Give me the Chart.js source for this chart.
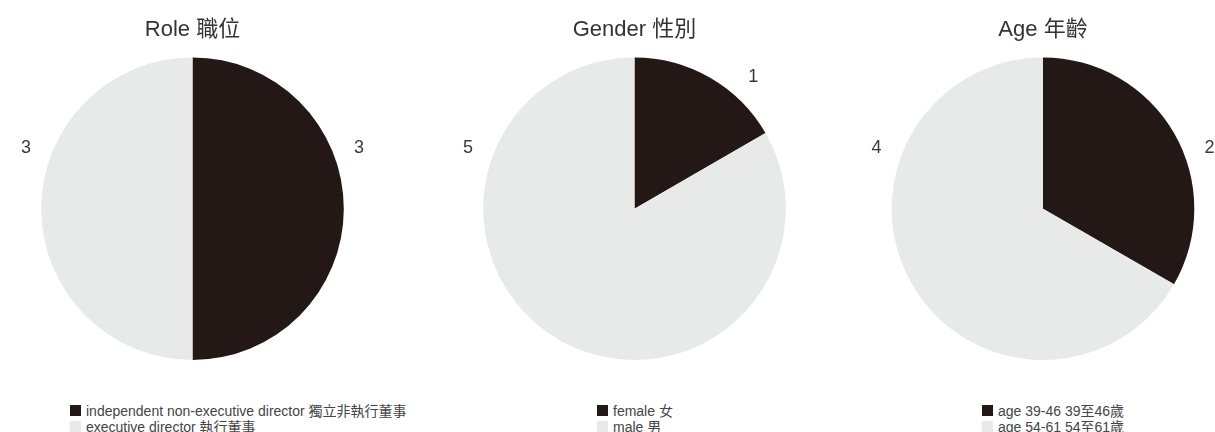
<!DOCTYPE html>
<html>
<head>
<meta charset="utf-8">
<script src="https://cdn.jsdelivr.net/npm/chart.js@4/dist/chart.umd.min.js"></script>
<style>
html, body { margin:0; padding:0; background:#fff; }
body { width:1215px; height:432px; overflow:hidden; position:relative;
  font-family:'Liberation Sans','Noto Sans CJK TC',sans-serif; }
canvas.chart { position:absolute; top:0; }
.legend { position:absolute; top:402px; font-size:14px; color:#444; white-space:nowrap; }
.legend .item { display:flex; align-items:center; height:16px; }
.legend .box { width:11px; height:11px; margin-right:5px; flex:none; }
</style>
</head>
<body>
<canvas id="c0" class="chart" width="381" height="360" style="left:2px"></canvas>
<canvas id="c1" class="chart" width="381" height="360" style="left:444px"></canvas>
<canvas id="c2" class="chart" width="370" height="360" style="left:858px"></canvas>
<div id="l0" class="legend" style="left:70px"></div>
<div id="l1" class="legend" style="left:597px"></div>
<div id="l2" class="legend" style="left:982px"></div>
<script>
// ---- data ----
const chartTitles = ['Role 職位', 'Gender 性別', 'Age 年齡'];
const roleLabels = ['independent non-executive director 獨立非執行董事', 'executive director 執行董事'];
const roleValues = [3, 3];
const genderLabels = ['female 女', 'male 男'];
const genderValues = [1, 5];
const ageLabels = ['age 39-46 39至46歲', 'age 54-61 54至61歲'];
const ageValues = [2, 4];

// ---- styles ----
const FONT = "'Liberation Sans','Noto Sans CJK TC',sans-serif";
const sliceColors = ['#231815', '#e8e9e9'];
Chart.defaults.font.family = FONT;

const outerLabels = {
  id: 'outerLabels',
  afterDatasetsDraw(chart, args, opts) {
    const ctx = chart.ctx;
    const meta = chart.getDatasetMeta(0);
    const values = chart.data.datasets[0].data;
    const deg = Math.PI / 180;
    ctx.save();
    ctx.font = opts.size + 'px ' + FONT;
    ctx.fillStyle = opts.color;
    ctx.textAlign = 'center';
    ctx.textBaseline = 'middle';
    meta.data.forEach((arc, i) => {
      const p = arc.getProps(['x', 'y', 'startAngle', 'endAngle', 'outerRadius'], true);
      const s = p.startAngle + Math.PI / 2, e = p.endAngle + Math.PI / 2;
      const mid = (s + e) / 2;
      let t = (mid < Math.PI ? opts.rightAngle : opts.leftAngle) * deg;
      t = Math.min(Math.max(t, s + opts.margin * deg), e - opts.margin * deg);
      const R = p.outerRadius + opts.offset;
      ctx.fillText(String(values[i]), p.x + R * Math.sin(t), p.y - R * Math.cos(t));
    });
    ctx.restore();
  }
};

function makePie(idx, labels, values) {
  new Chart(document.getElementById('c' + idx), {
    type: 'pie',
    data: {
      labels: labels,
      datasets: [{ data: values, backgroundColor: sliceColors, borderWidth: 0, hoverOffset: 0, offset: 0 }]
    },
    options: {
      responsive: false,
      animation: false,
      events: [],
      layout: { padding: 0 },
      plugins: {
        legend: { display: false },
        tooltip: { enabled: false },
        title: { display: true, text: chartTitles[idx], color: '#333',
                 font: { size: 22, weight: 'normal' }, padding: { top: 17, bottom: 14 } },
        outerLabels: { size: 18, color: '#3a3a3a', rightAngle: 70, leftAngle: 290, margin: 18, offset: 26 }
      }
    },
    plugins: [outerLabels]
  });
  const lg = document.getElementById('l' + idx);
  labels.forEach((lab, i) => {
    const item = document.createElement('div');
    item.className = 'item';
    const box = document.createElement('span');
    box.className = 'box';
    box.style.background = sliceColors[i];
    const txt = document.createElement('span');
    txt.textContent = lab;
    item.appendChild(box); item.appendChild(txt);
    lg.appendChild(item);
  });
}

makePie(0, roleLabels, roleValues);
makePie(1, genderLabels, genderValues);
makePie(2, ageLabels, ageValues);
</script>
</body>
</html>
